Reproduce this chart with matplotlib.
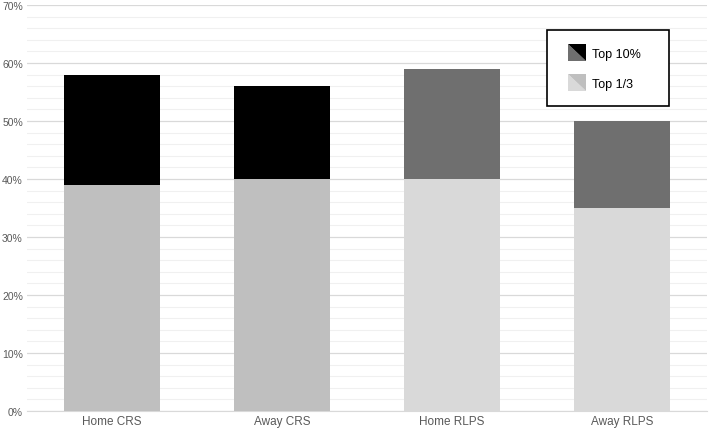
import numpy as np
import matplotlib.pyplot as plt
from matplotlib.patches import Polygon
from matplotlib.legend_handler import HandlerBase
from matplotlib.ticker import MultipleLocator, PercentFormatter

plt.rcParams['font.family'] = ['Liberation Sans', 'DejaVu Sans']

# Data
categories = ['Home CRS', 'Away CRS', 'Home RLPS', 'Away RLPS']
top_third = [39, 40, 40, 35]
top_ten = [58, 56, 59, 50]

# colours: CRS bars vs RLPS bars
low_cols = ['#bfbfbf', '#bfbfbf', '#d9d9d9', '#d9d9d9']
high_cols = ['#000000', '#000000', '#6f6f6f', '#6f6f6f']


class SplitHandler(HandlerBase):
    # square split along the diagonal, right-aligned in the handle box
    def __init__(self, upper, lower):
        super().__init__()
        self.upper = upper
        self.lower = lower

    def create_artists(self, legend, orig_handle, xdescent, ydescent,
                       width, height, fontsize, trans):
        s = height * 1.35
        x0 = -xdescent + width - s
        y0 = -ydescent + (height - s) / 2
        up = Polygon([[x0, y0 + s], [x0 + s, y0 + s], [x0 + s, y0]],
                     closed=True, fc=self.upper, ec='none', transform=trans)
        lo = Polygon([[x0, y0 + s], [x0, y0], [x0 + s, y0]],
                     closed=True, fc=self.lower, ec='none', transform=trans)
        return [lo, up]


fig = plt.figure(figsize=(7.09, 4.31), dpi=100)
ax = fig.add_axes([27 / 709, 19 / 431, 680 / 709, 406 / 431])

x = np.arange(len(categories))
width = 0.57
diff = [t - b for t, b in zip(top_ten, top_third)]
ax.bar(x, top_third, width, color=low_cols, zorder=3)
ax.bar(x, diff, width, bottom=top_third, color=high_cols, zorder=3)

ax.set_xlim(-0.5, 3.5)
ax.set_ylim(0, 70)
ax.yaxis.set_major_locator(MultipleLocator(10))
ax.yaxis.set_minor_locator(MultipleLocator(2))
ax.yaxis.set_major_formatter(PercentFormatter(decimals=0))
ax.grid(axis='y', which='major', color='#d9d9d9', linewidth=0.9, zorder=0)
ax.grid(axis='y', which='minor', color='#f0f0f0', linewidth=0.8, zorder=0)
for s in ['top', 'right', 'left']:
    ax.spines[s].set_visible(False)
ax.spines['bottom'].set_color('#d9d9d9')
ax.set_xticks(x)
ax.set_xticklabels(categories)
ax.tick_params(axis='both', which='both', length=0, colors='#595959')
ax.tick_params(axis='y', labelsize=7.5, pad=3)
ax.tick_params(axis='x', labelsize=8.5, pad=3)

h1, h2 = object(), object()
leg = ax.legend([h1, h2], ['Top 10%', 'Top 1/3'],
                handler_map={h1: SplitHandler('#000000', '#6f6f6f'),
                             h2: SplitHandler('#bfbfbf', '#d9d9d9')},
                loc='upper left', bbox_to_anchor=(0.7647, 0.75, 0.1794, 0.1884),
                mode='expand',
                fontsize=9, frameon=True, fancybox=False,
                handlelength=1.8, handleheight=1.2, handletextpad=0.5,
                labelspacing=1.3, borderpad=1.3, borderaxespad=0)
leg.get_frame().set_edgecolor('black')
leg.get_frame().set_linewidth(1.2)
leg.get_frame().set_alpha(1)
leg.set_zorder(5)

fig.savefig('out.png', dpi=100)
